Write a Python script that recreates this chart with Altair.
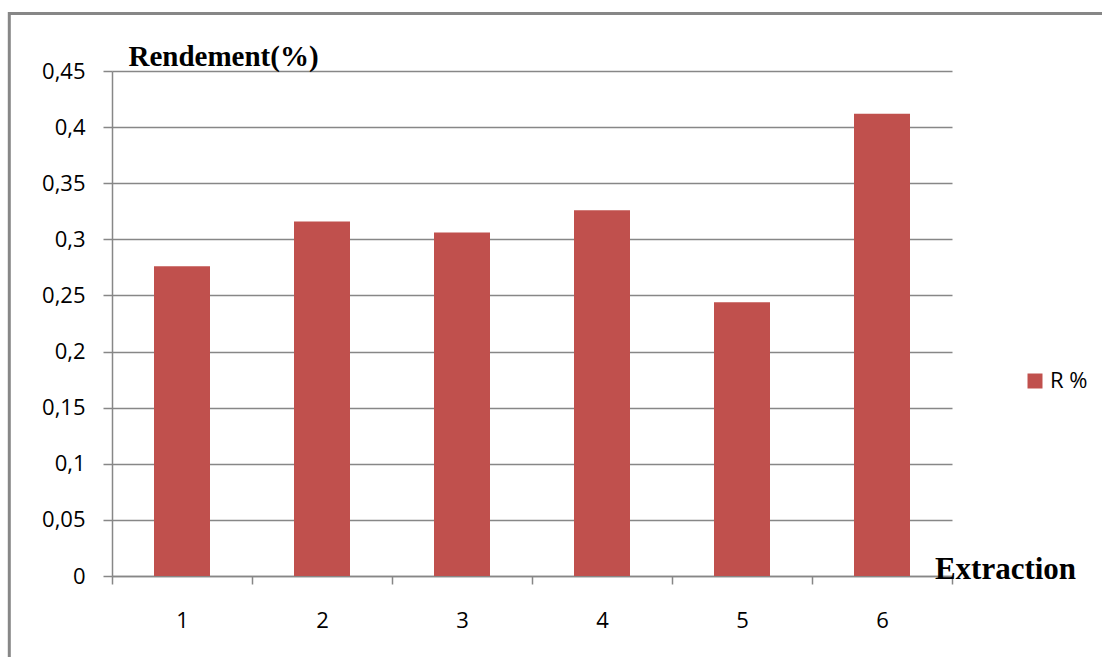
import altair as alt
import pandas as pd

extractions = ["1", "2", "3", "4", "5", "6"]
rendement = [0.276, 0.316, 0.306, 0.326, 0.244, 0.412]
series_name = ["R %"] * 6
y_ticks = [0, 0.05, 0.1, 0.15, 0.2, 0.25, 0.3, 0.35, 0.4, 0.45]

df = pd.DataFrame({"Extraction": extractions, "R": rendement, "serie": series_name})

GRAY = "#878787"
LABEL_FONT = "Open Sans"
TITLE_FONT = "Liberation Serif"

W, H = 840, 505
LEFT, TOP = 112, 71

bars = alt.Chart(df).mark_bar(width={"band": 0.4}, color="#C0504D").encode(
    x=alt.X(
        "Extraction:O",
        sort=extractions,
        scale=alt.Scale(paddingInner=0, paddingOuter=0),
        axis=alt.Axis(
            title="Extraction",
            titleFont=TITLE_FONT,
            titleFontSize=31,
            titleFontWeight="bold",
            titleColor="black",
            titleX=893,
            titleY=2,
            titleAlign="center",
            titleBaseline="alphabetic",
            labelAngle=0,
            labelFont=LABEL_FONT,
            labelFontSize=22,
            labelColor="black",
            labelPadding=26,
            tickSize=8,
            tickColor=GRAY,
            tickWidth=1.5,
            tickBand="extent",
            domainColor=GRAY,
            domainWidth=1.5,
            grid=False,
        ),
    ),
    y=alt.Y(
        "R:Q",
        scale=alt.Scale(domain=[0, 0.45], nice=False, zero=True),
        axis=alt.Axis(
            title="Rendement(%)",
            titleFont=TITLE_FONT,
            titleFontSize=29,
            titleFontWeight="bold",
            titleColor="black",
            titleAngle=0,
            titleX=111,
            titleY=-6,
            titleAlign="center",
            titleBaseline="alphabetic",
            values=y_ticks,
            labelExpr="replace(format(datum.value, '.2~f'), '.', ',')",
            labelFont=LABEL_FONT,
            labelFontSize=22,
            labelColor="black",
            labelPadding=18,
            tickSize=9,
            tickColor=GRAY,
            tickWidth=1.5,
            domainColor=GRAY,
            domainWidth=1.5,
            grid=True,
            gridColor=GRAY,
            gridWidth=1.5,
        ),
    ),
    color=alt.Color(
        "serie:N",
        scale=alt.Scale(domain=["R %"], range=["#C0504D"]),
        legend=alt.Legend(
            title=None,
            orient="none",
            legendX=912,
            legendY=299,
            symbolType="square",
            symbolSize=225,
            symbolStrokeWidth=0,
            symbolOpacity=1,
            labelFont=LABEL_FONT,
            labelFontSize=22,
            labelColor="black",
            labelOffset=4,
            padding=0,
        ),
    ),
)

border = alt.Chart(alt.Data(values=[{}])).mark_rect(
    fill=None, stroke=GRAY, strokeWidth=3
).encode(
    x=alt.value(9.3 - LEFT),
    y=alt.value(13.5 - TOP),
    x2=alt.value(1300),
    y2=alt.value(900),
)

chart = alt.layer(border, bars).properties(
    width=W,
    height=H,
    padding={"left": LEFT, "top": TOP, "right": 1102 - LEFT - W, "bottom": 657 - TOP - H},
    autosize=alt.AutoSizeParams(type="none"),
    background="white",
).configure_view(stroke=None)

chart.save("out.html", embed_options={"renderer": "svg", "actions": False})
